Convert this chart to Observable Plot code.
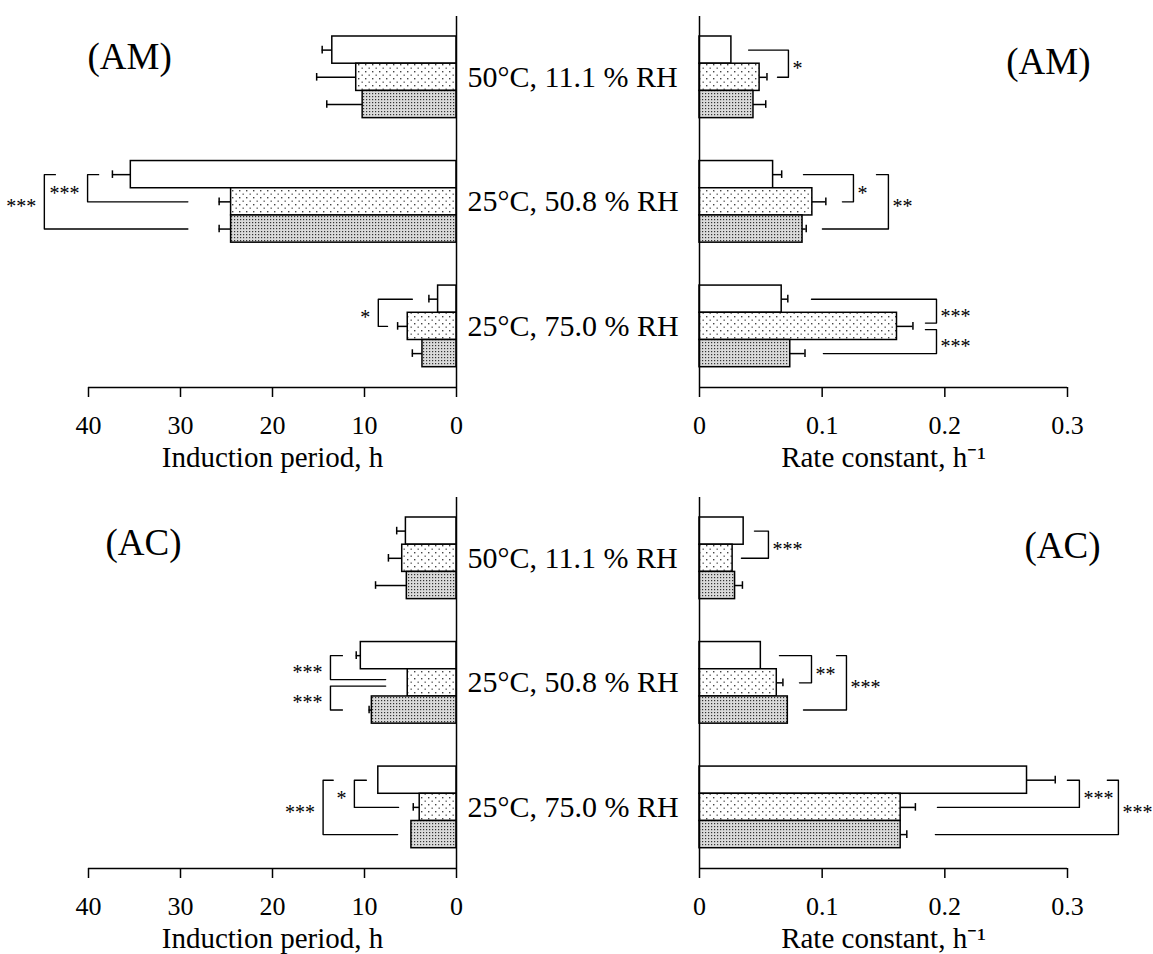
<!DOCTYPE html>
<html><head><meta charset="utf-8">
<script src="https://cdn.jsdelivr.net/npm/d3@7"></script>
<script src="https://cdn.jsdelivr.net/npm/@observablehq/plot@0.6"></script>
<style>
body{margin:0;background:#fff;}
#fig{position:relative;width:1153px;height:954px;overflow:hidden;background:#fff;}
#fig > div{position:absolute;}
</style></head><body>
<svg width="0" height="0" style="position:absolute">
<defs>
<pattern id="patLight" width="7" height="7" patternUnits="userSpaceOnUse">
<rect width="7" height="7" fill="#fff"/>
<rect x="1" y="1" width="1.4" height="1.4" fill="#444"/>
<rect x="4.5" y="4.5" width="1.4" height="1.4" fill="#666"/>
</pattern>
<pattern id="patDark" width="3" height="3" patternUnits="userSpaceOnUse">
<rect width="3" height="3" fill="#dadada"/>
<rect x="0" y="0" width="1.2" height="1.2" fill="#333"/>
</pattern>
</defs></svg>
<div id="fig"></div>
<script>
// ---------- data ----------
const conditions = ["50°C, 11.1 % RH", "25°C, 50.8 % RH", "25°C, 75.0 % RH"];
const seriesNames = ["Sample 1", "Sample 2", "Sample 3"];

// AM, induction period (h) — [condition][series]
const amInductionMean = [[13.5, 10.9, 10.2], [35.4, 24.5, 24.5], [2.0, 5.3, 3.7]];
const amInductionErr  = [[1.1, 4.3, 3.9], [2.0, 1.3, 1.3], [1.0, 1.1, 1.1]];
// AM, rate constant (1/h)
const amRateMean = [[0.026, 0.049, 0.044], [0.060, 0.092, 0.084], [0.067, 0.161, 0.074]];
const amRateErr  = [[0, 0.006, 0.010], [0.007, 0.011, 0.003], [0.005, 0.013, 0.012]];
// AC, induction period (h)
const acInductionMean = [[5.5, 5.9, 5.4], [10.4, 5.3, 9.2], [8.5, 4.0, 4.9]];
const acInductionErr  = [[1.0, 1.5, 3.4], [0.5, 0, 0.3], [0, 0.7, 0]];
// AC, rate constant (1/h)
const acRateMean = [[0.036, 0.027, 0.029], [0.050, 0.063, 0.072], [0.267, 0.164, 0.164]];
const acRateErr  = [[0, 0, 0.006], [0, 0.005, 0], [0.023, 0.012, 0.005]];

// significance brackets: condition, series a/b, arm ends (value units), bracket line (value units), label
const amInductionBrackets = [
  {cond: 1, a: 0, b: 1, armA: 38.9, armB: 29.2, at: 40.1, label: "***"},
  {cond: 1, a: 0, b: 2, armA: 43.6, armB: 29.2, at: 44.8, label: "***"},
  {cond: 2, a: 0, b: 1, armA: 4.8, armB: 7.5, at: 8.5, label: "*"}
];
const amRateBrackets = [
  {cond: 0, a: 0, b: 1, armA: 0.040, armB: 0.0636, at: 0.0725, label: "*"},
  {cond: 1, a: 0, b: 1, armA: 0.0848, armB: 0.1165, at: 0.1255, label: "*"},
  {cond: 1, a: 0, b: 2, armA: 0.1443, armB: 0.1002, at: 0.154, label: "**"},
  {cond: 2, a: 0, b: 1, armA: 0.0913, armB: 0.1842, at: 0.1932, label: "***"},
  {cond: 2, a: 1, b: 2, armA: 0.1842, armB: 0.101, at: 0.1932, label: "***"}
];
const acInductionBrackets = [
  {cond: 1, a: 0, b: 1, armA: 12.4, armB: 7.7, at: 13.7, label: "***"},
  {cond: 1, a: 1, b: 2, armA: 7.7, armB: 12.4, at: 13.7, label: "***"},
  {cond: 2, a: 0, b: 1, armA: 9.8, armB: 6.3, at: 11.1, label: "*"},
  {cond: 2, a: 0, b: 2, armA: 13.4, armB: 6.4, at: 14.5, label: "***"}
];
const acRateBrackets = [
  {cond: 0, a: 0, b: 1, armA: 0.0448, armB: 0.0342, at: 0.0562, label: "***"},
  {cond: 1, a: 0, b: 1, armA: 0.0652, armB: 0.0815, at: 0.0913, label: "**"},
  {cond: 1, a: 0, b: 2, armA: 0.1117, armB: 0.0848, at: 0.1198, label: "***"},
  {cond: 2, a: 0, b: 1, armA: 0.2999, armB: 0.194, at: 0.3097, label: "***"},
  {cond: 2, a: 0, b: 2, armA: 0.3325, armB: 0.1923, at: 0.3415, label: "***"}
];

const inductionTicks = [0, 10, 20, 30, 40];
const rateTicks = [0, 0.1, 0.2, 0.3];
const inductionLabel = "Induction period, h";
const rateLabel = "Rate constant, h\u207B\u00B9";

// ---------- layout ----------
const STEP = 4.577;             // rows per condition group (3 bars + gap)
const Y_DOMAIN = [-0.735, 12.9];
const FILLS = ["white", "url(#patLight)", "url(#patDark)"];
const FONT = "'Liberation Serif', 'Times New Roman', serif";

function panel(o) {
  const bars = [];
  conditions.forEach((c, g) => seriesNames.forEach((s, i) =>
    bars.push({cond: c, g, i, series: s, v: o.means[g][i], e: o.errs[g][i]})));
  const yc = (g, i) => g * STEP + i + 0.5;
  const withErr = bars.filter(d => d.e > 0);

  // bracket polylines
  const pts = [];
  const labels = [];
  o.brackets.forEach((b, k) => {
    const shared = (bar, role) => o.brackets.some(q => q !== b && q.cond === b.cond &&
      (role === "a" ? q.b === bar : q.a === bar));
    const ya = yc(b.cond, b.a) + (shared(b.a, "a") ? 0.12 : 0);
    const yb = yc(b.cond, b.b) - (shared(b.b, "b") ? 0.12 : 0);
    pts.push({id: k, x: b.armA, y: ya}, {id: k, x: b.at, y: ya},
             {id: k, x: b.at, y: yb}, {id: k, x: b.armB, y: yb});
    labels.push({x: b.at, y: (ya + yb) / 2, label: b.label});
  });

  const marks = [];
  seriesNames.forEach((s, i) => marks.push(Plot.rect(bars.filter(d => d.i === i), {
    x1: 0, x2: "v", y1: d => d.g * STEP + d.i, y2: d => d.g * STEP + d.i + 1,
    fill: FILLS[i], stroke: "black", strokeWidth: 1.5
  })));
  marks.push(
    Plot.ruleY(withErr, {y: d => yc(d.g, d.i), x1: "v", x2: d => d.v + d.e, stroke: "black", strokeWidth: 1.5}),
    Plot.ruleX(withErr, {x: d => d.v + d.e, y1: d => yc(d.g, d.i) - 0.14, y2: d => yc(d.g, d.i) + 0.14, stroke: "black", strokeWidth: 1.5}),
    Plot.line(pts, {x: "x", y: "y", z: "id", stroke: "black", strokeWidth: 1.4}),
    Plot.text(labels, {x: "x", y: "y", text: "label", dx: o.reversed ? -8 : 4, dy: 5,
      textAnchor: o.reversed ? "end" : "start", lineAnchor: "middle", fontSize: 20, fontFamily: FONT}),
    Plot.ruleY([Y_DOMAIN[1]], {stroke: "black", strokeWidth: 1.5}),
    Plot.ruleX([0], {stroke: "black", strokeWidth: 1.5}),
    Plot.axisX({ticks: o.ticks, tickFormat: d => `${d}`, tickSize: 10, tickPadding: 18, label: null,
      strokeWidth: 1.5, fontSize: 26, fontFamily: FONT}),
    Plot.text([o.axisLabel], {frameAnchor: "bottom", dy: 70, lineAnchor: "middle", fontSize: 29, fontFamily: FONT}),
    Plot.text([o.tag], {frameAnchor: o.reversed ? "top-left" : "top-right", dx: o.tagDx, dy: o.tagDy,
      textAnchor: o.reversed ? "start" : "end", lineAnchor: "middle", fontSize: 37, fontFamily: FONT})
  );
  if (o.reversed) {
    marks.push(Plot.text(conditions, {x: 0, y: (d, i) => i * STEP + 1.5, dx: 11, textAnchor: "start",
      lineAnchor: "middle", fontSize: 30, fontFamily: FONT}));
  }
  return Plot.plot({
    width: o.width, height: 480,
    marginTop: 16, marginBottom: 93, marginLeft: o.marginLeft, marginRight: o.marginRight,
    style: `background: transparent; overflow: visible; max-width: none; font-family: ${FONT}; font-size: 26px; color: black;`,
    x: {domain: o.domain, reverse: !!o.reversed},
    y: {domain: Y_DOMAIN, reverse: true, axis: null},
    marks
  });
}

function place(node, left, top) {
  const d = document.createElement("div");
  d.style.left = left + "px"; d.style.top = top + "px";
  d.appendChild(node);
  document.getElementById("fig").appendChild(d);
}

const L = {width: 700, marginLeft: 88, marginRight: 244, reversed: true, domain: [0, 40], ticks: inductionTicks, axisLabel: inductionLabel};
const R = {width: 553, marginLeft: 99, marginRight: 86, reversed: false, domain: [0, 0.3], ticks: rateTicks, axisLabel: rateLabel};

place(panel({...L, means: amInductionMean, errs: amInductionErr, brackets: amInductionBrackets, tag: "(AM)", tagDx: -1, tagDy: 41}), 0, 0);
place(panel({...R, means: amRateMean, errs: amRateErr, brackets: amRateBrackets, tag: "(AM)", tagDx: 23, tagDy: 46}), 600, 0);
place(panel({...L, means: acInductionMean, errs: acInductionErr, brackets: acInductionBrackets, tag: "(AC)", tagDx: 17, tagDy: 46}), 0, 481);
place(panel({...R, means: acRateMean, errs: acRateErr, brackets: acRateBrackets, tag: "(AC)", tagDx: 33, tagDy: 49}), 600, 481);
</script>
</body></html>
